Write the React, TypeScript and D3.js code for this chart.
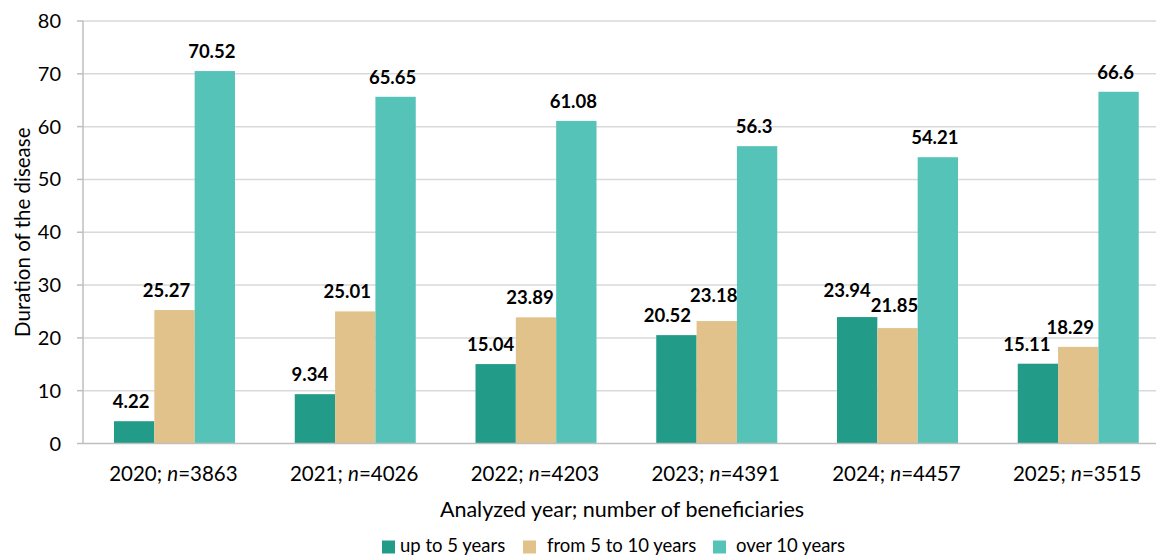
import React from "react";
import * as d3 from "d3";

const years = ["2020", "2021", "2022", "2023", "2024", "2025"];
const counts = ["3863", "4026", "4203", "4391", "4457", "3515"];
const seriesNames = ["up to 5 years", "from 5 to 10 years", "over 10 years"];
const upTo5 = [4.22, 9.34, 15.04, 20.52, 23.94, 15.11];
const from5to10 = [25.27, 25.01, 23.89, 23.18, 21.85, 18.29];
const over10 = [70.52, 65.65, 61.08, 56.3, 54.21, 66.6];
const yTicks = [0, 10, 20, 30, 40, 50, 60, 70, 80];
const colors = ["#229C89", "#E0C28A", "#55C3B8"];

const W = 1156;
const H = 556;
const left = 83;
const right = 1167.5;
const top = 21;
const bottom = 443.5;
const FONT = "Lato, 'Open Sans', sans-serif";

export default function App() {
  const series = [upTo5, from5to10, over10];
  const x = d3.scaleBand<string>().domain(years).range([left, right]).padding(0);
  const inner = d3
    .scaleBand<number>()
    .domain([0, 1, 2])
    .range([31, 31 + 121])
    .padding(0);
  const y = d3.scaleLinear().domain([0, 80]).range([bottom, top]);

  // small label nudges (dx, dy) keyed by "year-series" to mimic overlap avoidance
  const nudge: Record<string, [number, number]> = {
    "2023-1": [-3, -6],
    "2024-0": [-10, -7],
    "2024-1": [-3, -3],
    "2025-0": [-11, 0],
    "2025-1": [-8, 0],
    "2020-1": [-8, 0],
    "2021-1": [-8, 0],
    "2022-1": [-6, 0],
    "2022-0": [-5, 0],
    "2021-0": [-5, 0],
    "2023-0": [-9, 0],
  };

  const legendItems = [
    { x: 382, tx: 400 },
    { x: 523, tx: 547 },
    { x: 713, tx: 736 },
  ];

  return (
    <svg
      width={W}
      height={H}
      style={{ position: "absolute", left: 0, top: 0, background: "#fff" }}
      fontFamily={FONT}
    >
      {/* gridlines */}
      {yTicks.map((t) =>
        t === 0 ? null : (
          <line key={"g" + t} x1={left} x2={right} y1={y(t)} y2={y(t)} stroke="#D9D9D9" strokeWidth={1.5} />
        )
      )}
      {/* y tick marks and labels */}
      {yTicks.map((t) => (
        <g key={"t" + t}>
          <line x1={77} x2={left} y1={y(t)} y2={y(t)} stroke="#BFBFBF" strokeWidth={1.5} />
          <text x={61} y={y(t)} dy="0.35em" textAnchor="end" fontSize={20} fill="#000">
            {t}
          </text>
        </g>
      ))}
      {/* bars */}
      {years.map((yr, i) =>
        series.map((s, k) => (
          <rect
            key={yr + "-" + k}
            x={(x(yr) as number) + (inner(k) as number)}
            y={y(s[i])}
            width={inner.bandwidth()}
            height={bottom - y(s[i])}
            fill={colors[k]}
          />
        ))
      )}
      {/* axis lines */}
      <line x1={left} x2={left} y1={top} y2={bottom} stroke="#BFBFBF" strokeWidth={1.5} />
      <line x1={left} x2={right} y1={bottom} y2={bottom} stroke="#BFBFBF" strokeWidth={1.5} />
      {/* value labels */}
      {years.map((yr, i) =>
        series.map((s, k) => {
          const nd = nudge[yr + "-" + k] || [-3, 0];
          const cx = (x(yr) as number) + (inner(k) as number) + inner.bandwidth() / 2;
          return (
            <text
              key={"v" + yr + "-" + k}
              x={cx + nd[0]}
              y={y(s[i]) - 13 + nd[1]}
              textAnchor="middle"
              fontSize={18.5}
              fontWeight="bold"
              fill="#000"
            >
              {s[i]}
            </text>
          );
        })
      )}
      {/* x category labels */}
      {years.map((yr, i) => (
        <text
          key={"c" + yr}
          x={(x(yr) as number) + x.bandwidth() / 2}
          y={481}
          textAnchor="middle"
          fontSize={20.5}
          fill="#000"
        >
          {yr + "; "}
          <tspan fontStyle="italic">n</tspan>
          {"=" + counts[i]}
        </text>
      ))}
      {/* axis titles */}
      <text x={622} y={517} textAnchor="middle" fontSize={21.5} fill="#000">
        Analyzed year; number of beneficiaries
      </text>
      <text
        transform={`translate(30,${(top + bottom) / 2}) rotate(-90)`}
        textAnchor="middle"
        fontSize={20.5}
        fill="#000"
      >
        Duration of the disease
      </text>
      {/* legend */}
      {seriesNames.map((n, k) => (
        <g key={"l" + k}>
          <rect x={legendItems[k].x} y={540.5} width={13} height={13} fill={colors[k]} />
          <text x={legendItems[k].tx} y={552} fontSize={18.5} fill="#000">
            {n}
          </text>
        </g>
      ))}
    </svg>
  );
}
